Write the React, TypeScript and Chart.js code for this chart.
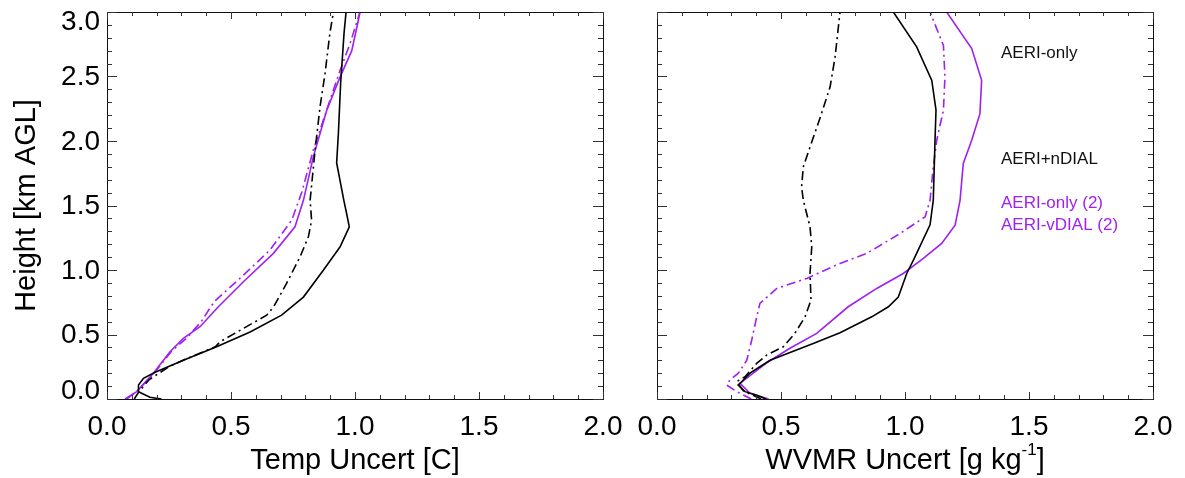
import React, { useEffect, useRef } from "react";
import { Chart, registerables } from "chart.js";

Chart.register(...registerables);

// ---------- data (heights in km AGL, uncertainties) ----------
// Left panel: temperature uncertainty [C]
const tAeriOnlyH = [0.0, 0.013, 0.057, 0.108, 0.16, 0.207, 0.3, 0.405, 0.52, 0.65, 0.79, 1.0, 1.18, 1.335, 1.44, 1.54, 1.83, 2.06, 2.445, 2.84, 3.0];
const tAeriOnlyV = [0.22, 0.173, 0.127, 0.127, 0.147, 0.194, 0.308, 0.442, 0.577, 0.704, 0.792, 0.873, 0.94, 0.977, 0.966, 0.955, 0.926, 0.933, 0.942, 0.956, 0.964];

const tAeriNdialH = [0.0, 0.06, 0.15, 0.25, 0.32, 0.405, 0.444, 0.65, 0.715, 0.896, 1.1, 1.257, 1.386, 1.54, 1.93, 2.264, 2.52, 2.84, 3.0];
const tAeriNdialV = [0.11, 0.13, 0.17, 0.25, 0.33, 0.437, 0.456, 0.644, 0.672, 0.724, 0.778, 0.812, 0.825, 0.819, 0.839, 0.859, 0.879, 0.899, 0.913];

const tAeriOnly2H = [0.0, 0.057, 0.2, 0.367, 0.47, 0.56, 0.715, 0.909, 1.129, 1.335, 1.54, 1.877, 2.239, 2.497, 2.7, 2.94, 3.0];
const tAeriOnly2V = [0.073, 0.12, 0.187, 0.254, 0.308, 0.375, 0.449, 0.55, 0.671, 0.758, 0.792, 0.832, 0.886, 0.94, 0.987, 1.014, 1.02];

const tAeriVdial2H = [0.0, 0.06, 0.2, 0.37, 0.47, 0.6, 0.69, 0.76, 0.96, 1.154, 1.387, 1.6, 1.93, 2.316, 2.548, 2.755, 3.0];
const tAeriVdial2V = [0.08, 0.12, 0.19, 0.26, 0.32, 0.38, 0.41, 0.435, 0.55, 0.657, 0.745, 0.785, 0.832, 0.899, 0.94, 0.98, 1.02];

// Right panel: water vapour mixing ratio uncertainty [g/kg]
const wAeriOnlyH = [0.0, 0.031, 0.057, 0.108, 0.134, 0.2, 0.25, 0.3, 0.43, 0.514, 0.637, 0.715, 0.79, 0.973, 1.077, 1.35, 1.54, 2.006, 2.24, 2.47, 2.73, 3.0];
const wAeriOnlyV = [0.44, 0.4, 0.355, 0.327, 0.341, 0.375, 0.415, 0.456, 0.63, 0.738, 0.866, 0.933, 0.973, 1.007, 1.034, 1.101, 1.114, 1.121, 1.125, 1.108, 1.047, 0.953];

const wAeriNdialH = [0.0, 0.06, 0.134, 0.173, 0.276, 0.34, 0.405, 0.509, 0.637, 0.767, 0.973, 1.18, 1.335, 1.54, 1.645, 1.8, 1.954, 2.176, 2.42, 2.65, 3.0];
const wAeriNdialV = [0.42, 0.35, 0.321, 0.355, 0.402, 0.442, 0.509, 0.556, 0.597, 0.621, 0.617, 0.624, 0.617, 0.59, 0.583, 0.59, 0.617, 0.657, 0.698, 0.718, 0.738];

const wAeriOnly2H = [0.0, 0.044, 0.122, 0.2, 0.289, 0.393, 0.509, 0.715, 0.857, 0.973, 1.09, 1.206, 1.348, 1.54, 1.826, 2.006, 2.21, 2.47, 2.716, 3.0];
const wAeriOnly2V = [0.45, 0.375, 0.335, 0.388, 0.449, 0.536, 0.644, 0.771, 0.886, 0.993, 1.074, 1.148, 1.202, 1.222, 1.235, 1.269, 1.302, 1.309, 1.269, 1.168];

const wAeriVdial2H = [0.0, 0.018, 0.057, 0.108, 0.147, 0.2, 0.3, 0.457, 0.637, 0.741, 0.857, 0.935, 1.051, 1.129, 1.283, 1.412, 1.54, 1.8, 2.006, 2.24, 2.497, 2.74, 3.0];
const wAeriVdial2V = [0.38, 0.362, 0.321, 0.281, 0.294, 0.328, 0.362, 0.382, 0.402, 0.415, 0.483, 0.604, 0.738, 0.846, 0.98, 1.081, 1.101, 1.114, 1.128, 1.155, 1.161, 1.155, 1.101];

const xTickLabels = ["0.0", "0.5", "1.0", "1.5", "2.0"];
const yTickLabels = ["0.0", "0.5", "1.0", "1.5", "2.0", "2.5", "3.0"];
const legendLabels = ["AERI-only", "AERI+nDIAL", "AERI-only (2)", "AERI-vDIAL (2)"];

const BLACK = "#000000";
const PURPLE = "rgb(160,32,240)";
const DASHDOT = [9, 4, 2, 4];
const FONT = "'Liberation Sans', Arial, Helvetica, sans-serif";
const W = 1185;
const H = 478;

function pts(h: number[], v: number[]) {
  return h.map((hh, i) => ({ x: v[i], y: hh }));
}

function makeDatasets(sets: { h: number[]; v: number[]; color: string; dash: boolean; label: string }[]) {
  return sets.map((s) => ({
    label: s.label,
    data: pts(s.h, s.v),
    showLine: true,
    borderColor: s.color,
    backgroundColor: s.color,
    borderWidth: 1.6,
    borderDash: s.dash ? DASHDOT : [],
    pointRadius: 0,
    tension: 0,
    fill: false,
  }));
}

type PanelOpts = {
  xTitle: string;
  xTitleSup?: string;
  showYLabels: boolean;
  showLegend: boolean;
};

function panelPlugin(opts: PanelOpts) {
  return {
    id: "panelDecor",
    afterDraw(chart: any) {
      const ctx: CanvasRenderingContext2D = chart.ctx;
      const xs = chart.scales.x;
      const ys = chart.scales.y;
      const a = chart.chartArea;
      ctx.save();
      // frame
      ctx.strokeStyle = "#111";
      ctx.lineWidth = 1;
      ctx.strokeRect(Math.round(a.left) + 0.5, Math.round(a.top) + 0.5, Math.round(a.right - a.left), Math.round(a.bottom - a.top));
      // ticks
      ctx.strokeStyle = "#333";
      ctx.beginPath();
      for (let i = 0; i <= 20; i++) {
        const v = i / 10;
        const px = Math.round(xs.getPixelForValue(v)) + 0.5;
        const len = i % 5 === 0 ? 7 : 4;
        ctx.moveTo(px, a.bottom);
        ctx.lineTo(px, a.bottom - len);
        ctx.moveTo(px, a.top);
        ctx.lineTo(px, a.top + len);
      }
      for (let i = 0; i <= 30; i++) {
        const v = i / 10;
        const py = Math.round(ys.getPixelForValue(v)) + 0.5;
        const len = i % 5 === 0 ? 10 : 5;
        ctx.moveTo(a.left, py);
        ctx.lineTo(a.left + len, py);
        ctx.moveTo(a.right, py);
        ctx.lineTo(a.right - len, py);
      }
      ctx.stroke();

      // x tick labels
      ctx.fillStyle = "#000";
      ctx.font = `28px ${FONT}`;
      ctx.textAlign = "center";
      ctx.textBaseline = "middle";
      xTickLabels.forEach((t) => {
        ctx.fillText(t, xs.getPixelForValue(parseFloat(t)), 427);
      });
      // y tick labels
      if (opts.showYLabels) {
        ctx.textAlign = "right";
        yTickLabels.forEach((t) => {
          let py = ys.getPixelForValue(parseFloat(t));
          py = Math.max(a.top + 9, Math.min(a.bottom - 9, py));
          ctx.fillText(t, a.left - 7, py + 1);
        });
        // y title
        ctx.save();
        ctx.translate(27, (a.top + a.bottom) / 2);
        ctx.rotate(-Math.PI / 2);
        ctx.textAlign = "center";
        ctx.font = `29px ${FONT}`;
        ctx.fillText("Height [km AGL]", 0, 0);
        ctx.restore();
      }
      // x title
      ctx.font = `29px ${FONT}`;
      ctx.textAlign = "left";
      const cx = (a.left + a.right) / 2;
      const ty = 461;
      if (opts.xTitleSup) {
        const main = opts.xTitle;
        const supFont = `17px ${FONT}`;
        const wMain = ctx.measureText(main).width;
        ctx.font = supFont;
        const wSup = ctx.measureText(opts.xTitleSup).width;
        ctx.font = `29px ${FONT}`;
        const wEnd = ctx.measureText("]").width;
        const total = wMain + wSup + wEnd;
        let x0 = cx - total / 2;
        ctx.fillText(main, x0, ty);
        x0 += wMain;
        ctx.font = supFont;
        ctx.fillText(opts.xTitleSup, x0, ty - 11);
        x0 += wSup;
        ctx.font = `29px ${FONT}`;
        ctx.fillText("]", x0, ty);
      } else {
        ctx.textAlign = "center";
        ctx.fillText(opts.xTitle, cx, ty);
      }
      // legend text
      if (opts.showLegend) {
        ctx.font = `17px ${FONT}`;
        ctx.textAlign = "left";
        const lx = 1001;
        const lys = [53, 159, 203, 225];
        const cols = [BLACK, BLACK, PURPLE, PURPLE];
        legendLabels.forEach((l, i) => {
          ctx.fillStyle = cols[i] === BLACK ? "#111" : PURPLE;
          ctx.fillText(l, lx, lys[i]);
        });
      }
      ctx.restore();
    },
  };
}

function makeConfig(datasets: any[], padding: any, opts: PanelOpts): any {
  return {
    type: "scatter",
    data: { datasets },
    options: {
      animation: false,
      responsive: false,
      devicePixelRatio: 1,
      layout: { padding },
      scales: {
        x: { type: "linear", min: 0, max: 2, display: false },
        y: { type: "linear", min: 0, max: 3, display: false },
      },
      plugins: { legend: { display: false }, tooltip: { enabled: false } },
    },
    plugins: [panelPlugin(opts)],
  };
}

export default function App() {
  const leftRef = useRef<HTMLCanvasElement>(null);
  const rightRef = useRef<HTMLCanvasElement>(null);

  useEffect(() => {
    const leftSets = makeDatasets([
      { h: tAeriOnlyH, v: tAeriOnlyV, color: BLACK, dash: false, label: legendLabels[0] },
      { h: tAeriNdialH, v: tAeriNdialV, color: BLACK, dash: true, label: legendLabels[1] },
      { h: tAeriOnly2H, v: tAeriOnly2V, color: PURPLE, dash: false, label: legendLabels[2] },
      { h: tAeriVdial2H, v: tAeriVdial2V, color: PURPLE, dash: true, label: legendLabels[3] },
    ]);
    const rightSets = makeDatasets([
      { h: wAeriOnlyH, v: wAeriOnlyV, color: BLACK, dash: false, label: legendLabels[0] },
      { h: wAeriNdialH, v: wAeriNdialV, color: BLACK, dash: true, label: legendLabels[1] },
      { h: wAeriOnly2H, v: wAeriOnly2V, color: PURPLE, dash: false, label: legendLabels[2] },
      { h: wAeriVdial2H, v: wAeriVdial2V, color: PURPLE, dash: true, label: legendLabels[3] },
    ]);
    const c1 = new Chart(
      leftRef.current as HTMLCanvasElement,
      makeConfig(leftSets, { left: 107, right: W - 603, top: 12, bottom: H - 399 }, {
        xTitle: "Temp Uncert [C]",
        showYLabels: true,
        showLegend: false,
      })
    );
    const c2 = new Chart(
      rightRef.current as HTMLCanvasElement,
      makeConfig(rightSets, { left: 657, right: W - 1153, top: 12, bottom: H - 399 }, {
        xTitle: "WVMR Uncert [g kg",
        xTitleSup: "-1",
        showYLabels: false,
        showLegend: true,
      })
    );
    return () => {
      c1.destroy();
      c2.destroy();
    };
  }, []);

  const cs: React.CSSProperties = { position: "absolute", left: 0, top: 0, width: W, height: H };
  return (
    <div style={{ position: "fixed", left: 0, top: 0, width: W, height: H, background: "#fff" }}>
      <canvas ref={leftRef} width={W} height={H} style={cs} />
      <canvas ref={rightRef} width={W} height={H} style={cs} />
    </div>
  );
}
